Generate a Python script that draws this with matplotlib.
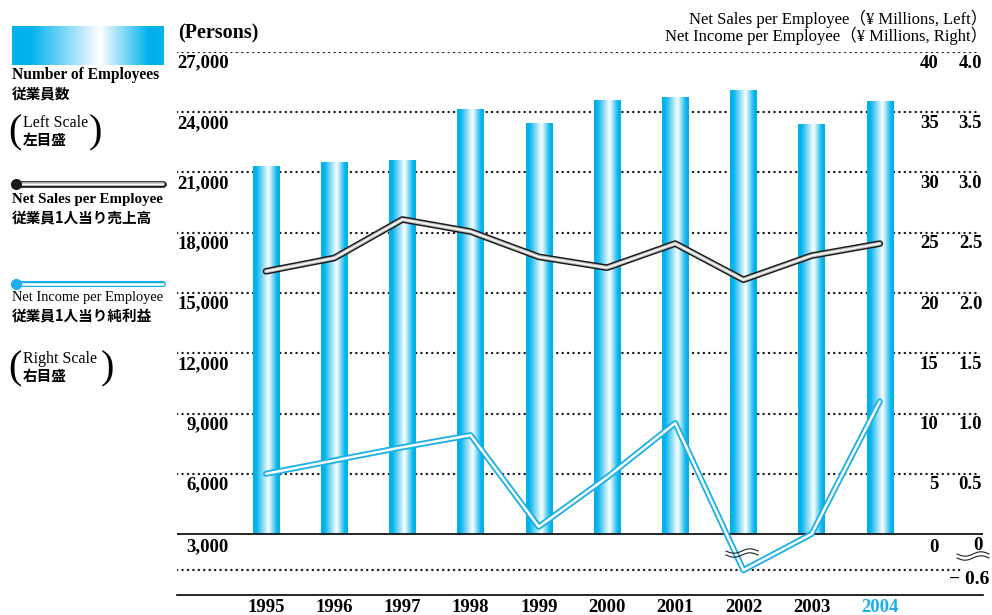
import numpy as np
import matplotlib.pyplot as plt
from matplotlib.colors import LinearSegmentedColormap

years = ['1995', '1996', '1997', '1998', '1999', '2000', '2001', '2002', '2003', '2004']
employees = [21300, 21500, 21600, 24150, 23450, 24600, 24750, 25100, 23400, 24550]
sales_per_emp = [21.8, 22.9, 26.1, 25.1, 23.0, 22.1, 24.1, 21.1, 23.1, 24.1]
income_per_emp = [0.50, 0.61, 0.72, 0.82, 0.06, 0.47, 0.92, -0.60, 0.00, 1.10]

emp_ticks = [3000, 6000, 9000, 12000, 15000, 18000, 21000, 24000, 27000]
sales_ticks = [0, 5, 10, 15, 20, 25, 30, 35, 40]
income_ticks = [0, 0.5, 1.0, 1.5, 2.0, 2.5, 3.0, 3.5, 4.0]

SERIF = 'Liberation Serif'
JP = 'Noto Sans CJK JP'
CYAN = '#00b2ec'
DOT = (0, (0.1, 2.2))

cmap = LinearSegmentedColormap.from_list(
    'bar', [(0, CYAN), (0.12, CYAN), (0.58, '#ffffff'), (0.9, CYAN), (1, CYAN)])
grad = np.linspace(0, 1, 256).reshape(1, -1)

W, H = 992, 615
fig = plt.figure(figsize=(W / 100, H / 100), dpi=100)

# main axes: pixel box x 177..983, y 52..595
x0, x1, ytop, ybot = 177, 983, 52, 595
ax = fig.add_axes([x0 / W, 1 - ybot / H, (x1 - x0) / W, (ybot - ytop) / H])
ax.patch.set_visible(False)
step = 68.2
xlim = ((x0 - 266) / step, (x1 - 266) / step)
px_per_unit = (534 - 52) / 24000  # employees
emp_bottom = 3000 - (ybot - 534) / px_per_unit

bw = 26.5 / step
for i, v in enumerate(employees):
    ax.imshow(grad, cmap=cmap, extent=[i - bw / 2, i + bw / 2, 3000, v],
              aspect='auto', zorder=2, interpolation='bicubic')

for t in emp_ticks[1:]:
    ax.axhline(t, color='#1a1a1a', lw=1.7, ls=DOT, dash_capstyle='round',
               xmax=(980 - x0) / (x1 - x0), zorder=1)
    ax.annotate(f'{t:,}', xy=(0.0645, t), xycoords=('axes fraction', 'data'),
                xytext=(0, -8), textcoords='offset points', ha='right', va='center',
                fontsize=13.5, fontweight='bold', family=SERIF)
ax.annotate(f'{emp_ticks[0]:,}', xy=(0.0645, emp_ticks[0]), xycoords=('axes fraction', 'data'),
            xytext=(0, -9.5), textcoords='offset points', ha='right', va='center',
            fontsize=13.5, fontweight='bold', family=SERIF)
ax.axhline(3000, color='black', lw=1.2, zorder=3)

ax.set_xlim(*xlim)
ax.set_ylim(emp_bottom, 27000)
ax.set_yticks([])
ax.set_xticks(range(len(years)), years)
ax.tick_params(axis='x', length=0, pad=3)
for lab in ax.get_xticklabels():
    lab.set_fontfamily(SERIF)
    lab.set_fontweight('bold')
    lab.set_fontsize(13.5)
ax.get_xticklabels()[-1].set_color('#1ab0e8')
for s in ['top', 'left', 'right']:
    ax.spines[s].set_visible(False)
ax.spines['bottom'].set_linewidth(1.2)

# net sales per employee (left of the two right scales)
ax2 = ax.twinx()
ax2.set_ylim(-(ybot - 534) / 12.05, 40)
xs = range(len(years))
ax2.plot(xs, sales_per_emp, color='#1a1a1a', lw=4.8, solid_capstyle='round', zorder=3)
ax2.plot(xs, sales_per_emp, color='#bdbdbd', lw=2.7, solid_capstyle='round', zorder=4)
ax2.plot(xs, sales_per_emp, color='white', lw=1.0, solid_capstyle='round', zorder=5)
for t in sales_ticks:
    ax2.annotate(f'{t}', xy=(0.945, t), xycoords=('axes fraction', 'data'),
                 xytext=(0, -8 if t else -9.5), textcoords='offset points',
                 ha='right', va='center', fontsize=13.5, fontweight='bold', family=SERIF)
ax2.set_yticks([])


# net income per employee, negative side compressed (axis break)
def fwd(v):
    v = np.asarray(v, dtype=float)
    return np.where(v < 0, v * 0.5, v)


def inv(v):
    v = np.asarray(v, dtype=float)
    return np.where(v < 0, v * 2.0, v)


ax3 = ax.twinx()
ax3.set_yscale('function', functions=(fwd, inv))
ax3.set_ylim(float(inv(-(ybot - 534) / 120.5)), 4.0)
ax3.axhline(-0.6, color='#1a1a1a', lw=1.7, ls=DOT, dash_capstyle='round',
            xmax=(963 - x0) / (x1 - x0), zorder=1)
ax3.plot(xs, income_per_emp, color='#1aafe6', lw=4.4, solid_capstyle='round', zorder=3)
ax3.plot(xs, income_per_emp, color='white', lw=1.8, solid_capstyle='round', zorder=4)
for t in income_ticks:
    ax3.annotate('0' if t == 0 else f'{t:.1f}', xy=(0.999, t),
                 xycoords=('axes fraction', 'data'),
                 xytext=(0, -8), textcoords='offset points',
                 ha='right', va='center', fontsize=13.5, fontweight='bold', family=SERIF)
ax3.annotate('\u2212 0.6', xy=(1.008, -0.6), xycoords=('axes fraction', 'data'),
             xytext=(0, -6.5), textcoords='offset points',
             ha='right', va='center', fontsize=14, fontweight='bold', family=SERIF)
ax3.set_yticks([])
ax3.minorticks_off()
for a in (ax2, ax3):
    for s in a.spines.values():
        s.set_visible(False)

# overlay in pixel coordinates for legend and titles
ov = fig.add_axes([0, 0, 1, 1])
ov.patch.set_visible(False)
ov.imshow(grad, cmap=cmap, extent=[12, 164, 65, 26], aspect='auto', interpolation='bicubic')
ov.set_xlim(0, W)
ov.set_ylim(H, 0)
ov.axis('off')

ov.text(178, 33, '(Persons)', fontsize=14.5, fontweight='bold', family=SERIF, va='center')
hdr = [SERIF, JP]
ov.text(987, 19, 'Net Sales per Employee（¥ Millions, Left）', ha='right', va='center',
        fontsize=12, family=hdr)
ov.text(987, 36, 'Net Income per Employee（¥ Millions, Right）', ha='right', va='center',
        fontsize=12, family=hdr)

ov.text(12, 75, 'Number of Employees', fontsize=11.2, fontweight='bold', family=SERIF, va='center')
ov.text(12, 93, '従業員数', fontsize=10.5, fontweight='bold', family=JP, va='center')


def scale_note(y, en, jp, right):
    ov.text(8, y + 10, '(', fontsize=29, family=SERIF, va='center')
    ov.text(23, y, en, fontsize=11.5, family=SERIF, va='center')
    ov.text(23, y + 17, jp, fontsize=10.5, fontweight='bold', family=JP, va='center')
    ov.text(right, y + 10, ')', fontsize=29, family=SERIF, va='center')


scale_note(123, 'Left Scale', '左目盛', 89)
scale_note(359, 'Right Scale', '右目盛', 101)

# legend line samples
lx = [16, 163]
ov.plot(lx, [184, 184], color='#1a1a1a', lw=4.8, solid_capstyle='round')
ov.plot(lx, [184, 184], color='#bdbdbd', lw=2.7, solid_capstyle='round')
ov.plot(lx, [184, 184], color='white', lw=1.0, solid_capstyle='round')
ov.plot([16], [184], 'o', color='#1a1a1a', ms=7)
ov.text(12, 199, 'Net Sales per Employee', fontsize=10.8, fontweight='bold', family=SERIF, va='center')
ov.text(12, 217, '従業員1人当り売上高', fontsize=10.5, fontweight='bold', family=JP, va='center')

ov.plot(lx, [284, 284], color='#1aafe6', lw=4.4, solid_capstyle='round')
ov.plot(lx, [284, 284], color='white', lw=1.8, solid_capstyle='round')
ov.plot([16], [284], 'o', color='#1aafe6', ms=7)
ov.text(12, 297, 'Net Income per Employee', fontsize=10.4, family=SERIF, va='center')
ov.text(12, 316, '従業員1人当り純利益', fontsize=10.5, fontweight='bold', family=JP, va='center')

# axis break squiggles
for cx, cy in [(742, 553), (973, 556)]:
    sx = np.linspace(-16, 16, 60)
    for off in (-2, 2):
        ov.plot(cx + sx, cy + off - 2.2 * np.sin(sx / 16 * np.pi), color='#222222', lw=0.8)

fig.savefig('out.png', dpi=100)
